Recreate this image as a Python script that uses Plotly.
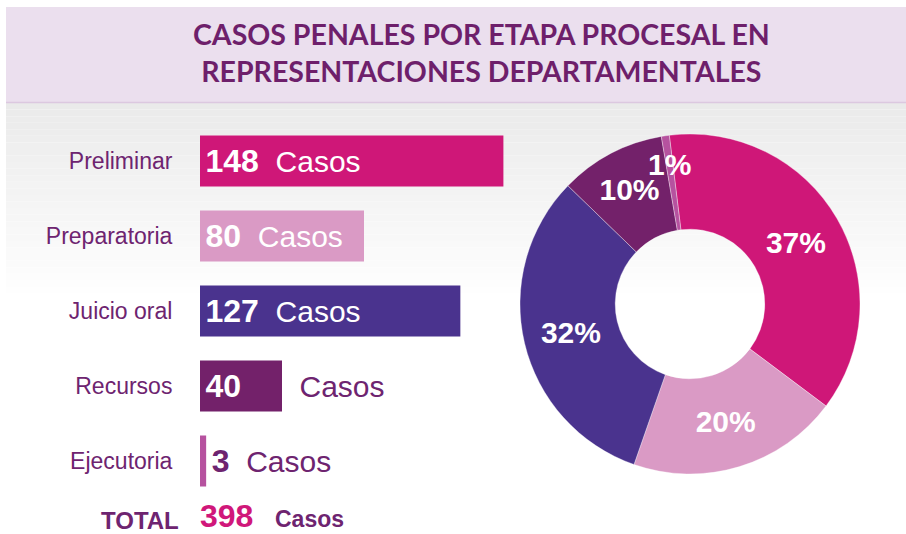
import math
import plotly.graph_objects as go

# ---------------- data ----------------
categories = ["Preliminar", "Preparatoria", "Juicio oral", "Recursos", "Ejecutoria"]
cases = [148, 80, 127, 40, 3]
title_lines = ["CASOS PENALES POR ETAPA PROCESAL EN", "REPRESENTACIONES DEPARTAMENTALES"]
unit = "Casos"
total_label = "TOTAL"

# ---------------- style ----------------
colors = ["#CF1778", "#DA9AC5", "#4A338E", "#73216A", "#B6529F"]
W, H = 906, 534
FONT = "Liberation Sans, Arial, sans-serif"
PURPLE = "#6E2470"
TITLE_COLOR = "#6E1F6B"
MAGENTA = "#D0177A"


def px_x(x):
    return x / W


def px_y(y):
    return 1 - y / H


casos_color = ["#FFFFFF", "#FFFFFF", "#FFFFFF", PURPLE, PURPLE]
gap = [2, 2, 2, 7, 2]
text_pos = ["inside", "inside", "inside", "inside", "outside"]


def bar_label(v, col, g):
    return ("<span style='font-size:9px'>\u00a0</span>"
            f"<span style='font-size:32px'><b>{v}</b></span>"
            + "\u00a0" * g + f"<span style='color:{col}'>{unit}</span>")


bar_text = [bar_label(v, c, g) for v, c, g in zip(cases, casos_color, gap)]

fig = go.Figure()

fig.add_trace(go.Bar(
    x=cases, y=categories, orientation="h",
    marker=dict(color=colors, line=dict(width=0)),
    text=bar_text, textposition=text_pos, insidetextanchor="start",
    constraintext="none", cliponaxis=False, textangle=0,
    insidetextfont=dict(family=FONT, size=25, color="white"),
    outsidetextfont=dict(family=FONT, size=25, color=PURPLE),
    width=0.68, hoverinfo="skip", showlegend=False,
))

# donut geometry (pixels)
CX, CY, R = 690, 304, 170
ROT = -7
total = sum(cases)
pie_templates = ["<b>%{percent:.0%}</b>"] * (len(cases) - 1) + [""]

fig.add_trace(go.Pie(
    values=cases, labels=categories, sort=False, direction="clockwise",
    rotation=ROT, hole=0.44,
    marker=dict(colors=colors, line=dict(color="rgba(255,255,255,0.35)", width=1)),
    texttemplate=pie_templates, textposition="inside",
    insidetextorientation="horizontal",
    textfont=dict(family=FONT, size=30, color="white"),
    domain=dict(x=[px_x(CX - R), px_x(CX + R)], y=[px_y(CY + R), px_y(CY - R)]),
    showlegend=False, hoverinfo="skip",
))

# label for the smallest slice, placed at its mid-angle
cum_before = sum(cases[:-1])
mid_frac = (cum_before + cases[-1] / 2) / total
ang = math.radians(ROT + 360 * mid_frac)
lr = 0.83 * R
lx = CX + lr * math.sin(ang)
ly = CY - lr * math.cos(ang)

# background shapes
shapes = []
g0, g1, ys, ye = 234, 255, 103, 300
n = 30
for i in range(n):
    y0 = ys + (ye - ys) * i / n
    y1 = ys + (ye - ys) * (i + 1) / n
    c = round(g0 + (g1 - g0) * (i + 0.5) / n)
    shapes.append(dict(type="rect", xref="paper", yref="paper", layer="below",
                       x0=px_x(6), x1=1, y0=px_y(y1), y1=px_y(y0),
                       fillcolor=f"rgb({c},{c},{c})", line=dict(width=0)))
shapes.append(dict(type="rect", xref="paper", yref="paper", layer="below",
                   x0=px_x(6), x1=1, y0=px_y(102), y1=px_y(7),
                   fillcolor="#EBDFEE", line=dict(width=0)))
shapes.append(dict(type="line", xref="paper", yref="paper", layer="below",
                   x0=px_x(6), x1=1, y0=px_y(102.5), y1=px_y(102.5),
                   line=dict(color="#DCC8E0", width=1.5)))

annotations = [
    dict(text="<b>" + "<br>".join(title_lines) + "</b>", x=px_x(481), y=px_y(52),
         xref="paper", yref="paper", showarrow=False, xanchor="center", yanchor="middle",
         font=dict(family="Lato, Liberation Sans, sans-serif", size=28.5, color=TITLE_COLOR)),
    dict(text=f"<b>{total_label}</b>", x=px_x(181), y=px_y(520), xref="paper", yref="paper",
         showarrow=False, xanchor="right", yanchor="middle",
         font=dict(family=FONT, size=24, color=PURPLE)),
    dict(text=f"<b>{total}</b>", x=px_x(198), y=px_y(516), xref="paper", yref="paper",
         showarrow=False, xanchor="left", yanchor="middle",
         font=dict(family=FONT, size=32, color=MAGENTA)),
    dict(text=f"<b>{unit}</b>", x=px_x(273), y=px_y(519), xref="paper", yref="paper",
         showarrow=False, xanchor="left", yanchor="middle",
         font=dict(family=FONT, size=23, color=PURPLE)),
    dict(text=f"<b>{cases[-1] / total:.0%}</b>", x=px_x(lx), y=px_y(ly),
         xref="paper", yref="paper", showarrow=False, xanchor="center", yanchor="middle",
         font=dict(family=FONT, size=30, color="white")),
]

fig.update_layout(
    width=W, height=H, margin=dict(l=0, r=0, t=0, b=0),
    paper_bgcolor="white", plot_bgcolor="rgba(0,0,0,0)",
    xaxis=dict(domain=[px_x(200), px_x(528)], range=[0, 160], visible=False, fixedrange=True),
    yaxis=dict(domain=[px_y(498.5), px_y(123.5)], autorange="reversed", showgrid=False,
               zeroline=False, showline=False, ticks="outside", ticklen=22,
               tickcolor="rgba(0,0,0,0)",
               tickfont=dict(family=FONT, size=23, color=PURPLE), fixedrange=True),
    uniformtext=dict(minsize=30, mode="show"),
    shapes=shapes, annotations=annotations,
)

fig.write_html("out.html", config={"displayModeBar": False},
               post_script="document.body.style.margin='0';")
